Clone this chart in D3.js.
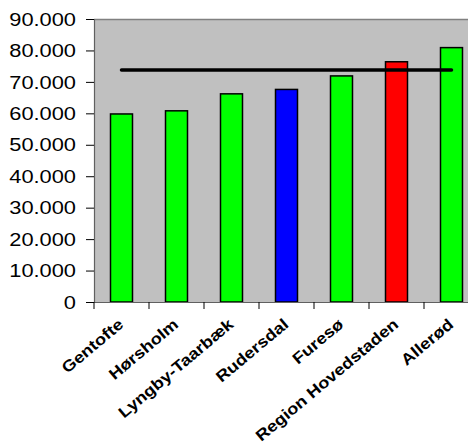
<!DOCTYPE html>
<html><head><meta charset="utf-8">
<script src="https://cdn.jsdelivr.net/npm/d3@7"></script>
<style>body{margin:0;background:#fff}svg{display:block}</style>
</head><body><svg id="c" width="468" height="447"></svg>
<script>
const categories = ["Gentofte","Hørsholm","Lyngby-Taarbæk","Rudersdal","Furesø","Region Hovedstaden","Allerød"];
const values = [59800, 60800, 66200, 67600, 71900, 76400, 80900];
const barColors = ["#00ff00","#00ff00","#00ff00","#0000ff","#00ff00","#ff0000","#00ff00"];
const refValue = 73800;
const yTicks = [0,10000,20000,30000,40000,50000,60000,70000,80000,90000];

const svg = d3.select("#c");
const L = 94, R = 479, T = 19, B = 302;
const xb = d3.scaleBand().domain(categories).range([L, R]);
const y = d3.scaleLinear().domain([0, 90000]).range([B, T]);
const FONT = "Arial, 'Liberation Sans', sans-serif";

svg.append("rect").attr("x", L).attr("y", T).attr("width", R - L).attr("height", B - T).attr("fill", "#c0c0c0");
svg.append("line").attr("x1", L).attr("x2", R).attr("y1", T + 0.5).attr("y2", T + 0.5).attr("stroke", "#808080").attr("stroke-width", 1.5);

svg.selectAll("rect.bar").data(categories).enter().append("rect").attr("class", "bar")
  .attr("x", d => xb(d) + xb.bandwidth() / 2 - 11)
  .attr("width", 22)
  .attr("y", (d, i) => y(values[i]))
  .attr("height", (d, i) => B - y(values[i]))
  .attr("fill", (d, i) => barColors[i])
  .attr("stroke", "#000").attr("stroke-width", 1.5);

svg.append("line")
  .attr("x1", xb(categories[0]) + xb.bandwidth() / 2)
  .attr("x2", xb(categories[categories.length - 1]) + xb.bandwidth() / 2)
  .attr("y1", y(refValue)).attr("y2", y(refValue))
  .attr("stroke", "#000").attr("stroke-width", 3.5).attr("stroke-linecap", "round");

const fmt = v => v === 0 ? "0" : d3.format(",")(v).replace(/,/g, ".");
const ya = svg.append("g").attr("transform", `translate(${L},0)`)
  .call(d3.axisLeft(y).tickValues(yTicks).tickFormat("").tickSize(8));
ya.select(".domain").attr("stroke", "#606060").attr("stroke-width", 1.2);
ya.selectAll(".tick line").attr("stroke", "#000");
ya.selectAll(".tick text").remove();
svg.selectAll("g.ylab").data(yTicks).enter().append("g").attr("class", "ylab")
  .attr("transform", d => `translate(76,${y(d)}) scale(1.18,1)`)
  .append("text").attr("text-anchor", "end").attr("dy", "0.36em")
  .attr("font-family", FONT).attr("font-size", 18.5).attr("fill", "#000")
  .text(fmt);

const xa = svg.append("g").attr("transform", `translate(0,${B})`)
  .call(d3.axisBottom(xb).tickSize(0).tickFormat(""));
xa.select(".domain").attr("stroke", "#606060").attr("stroke-width", 1.2);
xa.selectAll(".tick").remove();
xa.selectAll("line.bt").data(categories).enter().append("line").attr("class", "bt")
  .attr("x1", d => xb(d)).attr("x2", d => xb(d)).attr("y1", 0).attr("y2", 7).attr("stroke", "#000");

svg.selectAll("text.cat").data(categories).enter().append("text").attr("class", "cat")
  .attr("transform", d => `translate(${xb(d) + xb.bandwidth() / 2 + 3},${B + 24}) rotate(-40) scale(1.15,1)`)
  .attr("text-anchor", "end")
  .attr("font-family", FONT)
  .attr("font-weight", "bold").attr("font-size", 15.8)
  .text(d => d);
</script></body></html>
